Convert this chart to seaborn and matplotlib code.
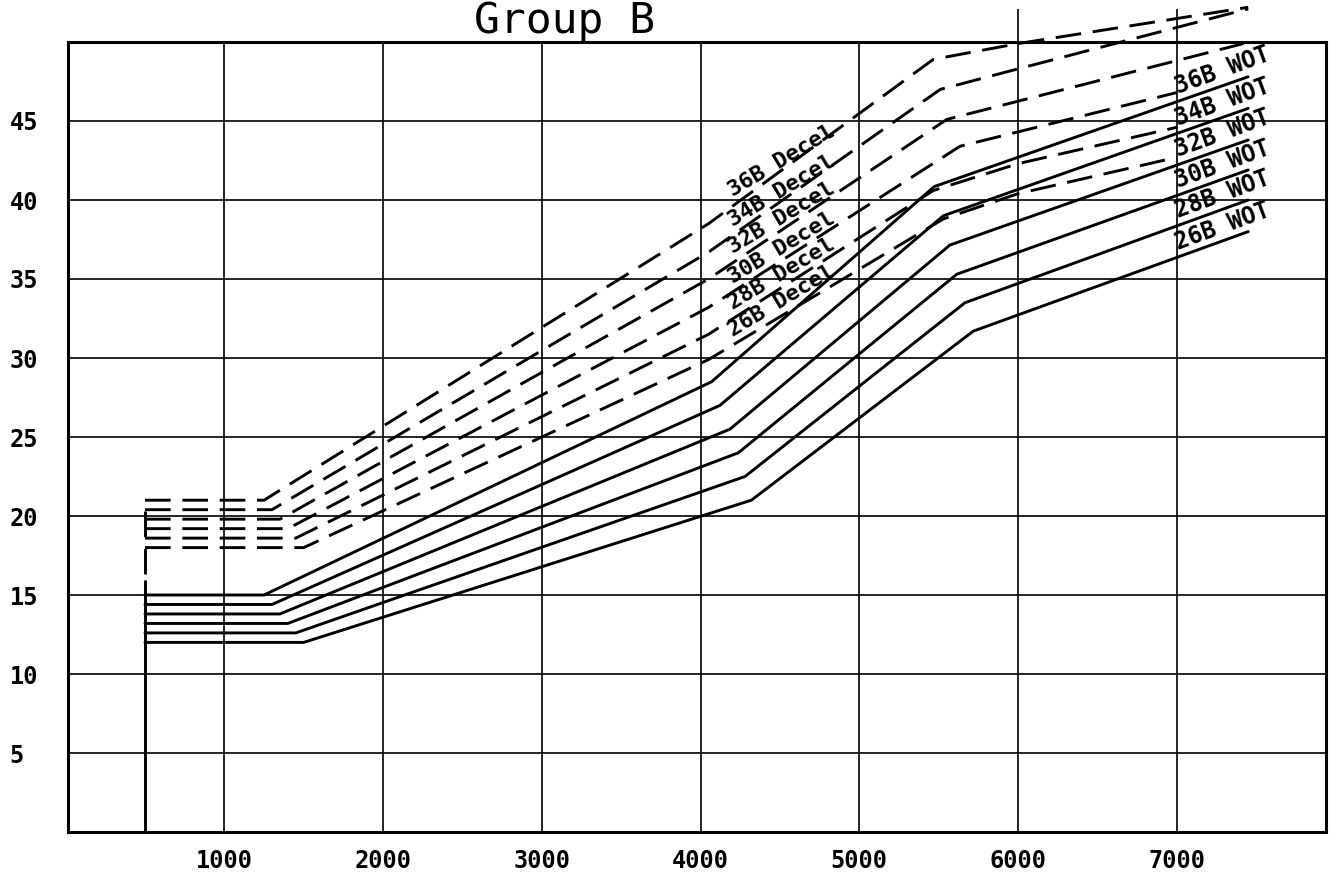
import numpy as np
import pandas as pd
import matplotlib
matplotlib.use("Agg")
import matplotlib.pyplot as plt
import seaborn as sns

# ------------------------------------------------------------
# values (rpm break points, axis value)
# ------------------------------------------------------------
wot_names = ["26B WOT", "28B WOT", "30B WOT", "32B WOT", "34B WOT", "36B WOT"]
wot_rpm = [
    [500, 1500, 4320, 5718, 7450],
    [500, 1450, 4280, 5666, 7450],
    [500, 1400, 4238, 5614, 7450],
    [500, 1350, 4186, 5571, 7450],
    [500, 1300, 4122, 5529, 7450],
    [500, 1250, 4070, 5472, 7450],
]
wot_val = [
    [12.0, 12.0, 21.0, 31.7, 38.0],
    [12.6, 12.6, 22.5, 33.5, 40.0],
    [13.2, 13.2, 24.0, 35.3, 41.9],
    [13.8, 13.8, 25.5, 37.15, 43.8],
    [14.4, 14.4, 27.0, 39.0, 45.8],
    [15.0, 15.0, 28.5, 40.85, 47.8],
]

decel_names = ["26B Decel", "28B Decel", "30B Decel", "32B Decel", "34B Decel", "36B Decel"]
decel_rpm = [
    [500, 1500, 4050, 5529, 6000, 7000],
    [500, 1450, 4050, 5466, 6000, 7000],
    [500, 1400, 4050, 5634, 7000],
    [500, 1350, 4050, 5551, 7420],
    [500, 1300, 4050, 5510, 6000, 7450],
    [500, 1250, 4050, 5466, 6000, 7450],
]
decel_val = [
    [18.0, 18.0, 29.9, 38.8, 40.4, 42.7],
    [18.6, 18.6, 31.5, 40.6, 42.3, 44.6],
    [19.2, 19.2, 33.2, 43.4, 46.8],
    [19.8, 19.8, 35.0, 45.1, 49.9],
    [20.4, 20.4, 36.7, 47.0, 48.3, 52.1],
    [21.0, 21.0, 38.5, 48.9, 49.9, 52.2],
]

# left edge connectors at 500 rpm
edge_rpm = 500
edge_wot = [0, 15.9]
edge_decel = [16.3, 21.0]

x_ticks = [1000, 2000, 3000, 4000, 5000, 6000, 7000]
y_ticks = [5, 10, 15, 20, 25, 30, 35, 40, 45]
grid_ext_x = [6000, 7000]
grid_ext_top = 52.1

decel_label_rpm = 4220
wot_label_rpm = 7000

# ------------------------------------------------------------
# long table for seaborn
# ------------------------------------------------------------
rows = []
for name, xs, ys in zip(wot_names, wot_rpm, wot_val):
    for x, y in zip(xs, ys):
        rows.append((name, "WOT", x, y))
for name, xs, ys in zip(decel_names, decel_rpm, decel_val):
    for x, y in zip(xs, ys):
        rows.append((name, "Decel", x, y))
df = pd.DataFrame(rows, columns=["series", "mode", "rpm", "value"])

sns.set_style("white")
plt.rcParams["font.family"] = ["DejaVu Sans Mono", "DejaVu Sans"]
plt.rcParams["text.color"] = "black"

DASH = (8.8, 4)
LW = 2.1

fig = plt.figure(figsize=(13.3, 8.96), dpi=100)
ax = fig.add_axes([68 / 1330, 64 / 896, 1258 / 1330, 790 / 896])

sns.lineplot(data=df, x="rpm", y="value", units="series", estimator=None,
             style="mode", dashes={"WOT": "", "Decel": DASH},
             color="black", lw=LW, sort=False, legend=False, ax=ax,
             clip_on=False)

ax.plot([edge_rpm, edge_rpm], edge_wot, color="black", lw=LW)
ax.plot([edge_rpm, edge_rpm], edge_decel, color="black", lw=LW, dashes=DASH)

ax.set_xlim(15, 7940)
ax.set_ylim(0, 50)
ax.set_xticks(x_ticks)
ax.set_yticks(y_ticks)
ax.set_xlabel("")
ax.set_ylabel("")
ax.grid(True, color="black", lw=1.2)
ax.set_axisbelow(True)
ax.vlines(grid_ext_x, 50, grid_ext_top, colors="black", lw=1.2, clip_on=False)

ax.tick_params(axis="both", length=0, labelsize=17, labelcolor="black")
ax.tick_params(axis="x", pad=12)
ax.tick_params(axis="y", pad=42)
for lab in ax.get_yticklabels():
    lab.set_ha("left")
    lab.set_fontweight("bold")
for lab in ax.get_xticklabels():
    lab.set_fontweight("bold")

for sp in ax.spines.values():
    sp.set_visible(True)
    sp.set_color("black")
    sp.set_linewidth(2.2)

# labels sitting on the curves
for name, xs, ys in zip(decel_names, decel_rpm, decel_val):
    y = np.interp(decel_label_rpm, xs, ys)
    ax.text(decel_label_rpm, y + 0.2, name, rotation=31, rotation_mode="anchor",
            ha="left", va="bottom", fontsize=16, fontweight="bold", color="black")
for name, xs, ys in zip(wot_names, wot_rpm, wot_val):
    y = np.interp(wot_label_rpm, xs, ys)
    ax.text(wot_label_rpm + 20, y + 0.2, name, rotation=20, rotation_mode="anchor",
            ha="left", va="bottom", fontsize=17, fontweight="bold", color="black")

fig.text(565 / 1330, 1 - 33 / 896, "Group B", ha="center", va="baseline",
         fontsize=31, family="DejaVu Sans Mono", color="black")

fig.savefig("out.png", dpi=100)
